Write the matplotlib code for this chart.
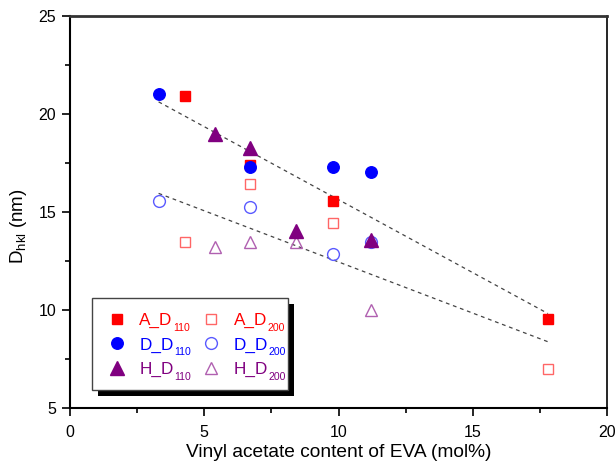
import matplotlib
matplotlib.use("Agg")
import matplotlib.pyplot as plt
from matplotlib.lines import Line2D
from matplotlib.patches import Rectangle
from matplotlib.ticker import MultipleLocator
from matplotlib.transforms import IdentityTransform

plt.rcParams['font.family'] = ['Liberation Sans', 'DejaVu Sans']
plt.rcParams['mathtext.fontset'] = 'custom'
plt.rcParams['mathtext.rm'] = 'Liberation Sans'
plt.rcParams['mathtext.it'] = 'Liberation Sans:italic'
plt.rcParams['mathtext.bf'] = 'Liberation Sans:bold'

# Data
a110_x = [4.3, 6.7, 9.8, 17.8]
a110_y = [20.9, 17.4, 15.55, 9.55]
d110_x = [3.3, 6.7, 9.8, 11.2]
d110_y = [21.0, 17.3, 17.3, 17.05]
h110_x = [5.4, 6.7, 8.4, 11.2]
h110_y = [19.0, 18.25, 14.05, 13.55]
a200_x = [4.3, 6.7, 9.8, 17.8]
a200_y = [13.47, 16.43, 14.45, 6.98]
d200_x = [3.3, 6.7, 9.8, 11.2]
d200_y = [15.55, 15.28, 12.85, 13.45]
h200_x = [5.4, 6.7, 8.4, 11.2]
h200_y = [13.2, 13.47, 13.47, 10.0]
trend_x = [3.3, 17.8]
trend_upper = [20.62, 9.82]
trend_lower = [15.95, 8.38]
legend_main = ['A_D', 'D_D', 'H_D', 'A_D', 'D_D', 'H_D']
legend_sub = ['110', '110', '110', '200', '200', '200']

fig = plt.figure(figsize=(6.15, 4.72), dpi=100)
ax = fig.add_axes([70/615, 1-408/472, 537/615, 392/472])

ax.plot(trend_x, trend_upper, ls=(0, (3, 3)), color='#444444', lw=0.9, zorder=1)
ax.plot(trend_x, trend_lower, ls=(0, (3, 3)), color='#444444', lw=0.9, zorder=1)

c_red, c_blue, c_pur = '#ff0000', '#0000ff', '#800080'
l_red, l_blue, l_pur = '#ff6666', '#5a5aff', '#b060b0'

ax.plot(a200_x, a200_y, 's', ms=7.5, mfc='none', mec=l_red, mew=1.0, ls='none', zorder=2)
ax.plot(d200_x, d200_y, 'o', ms=8.5, mfc='none', mec=l_blue, mew=1.0, ls='none', zorder=2)
ax.plot(h200_x, h200_y, '^', ms=9, mfc='none', mec=l_pur, mew=1.0, ls='none', zorder=2)
ax.plot(a110_x, a110_y, 's', ms=6.8, color=c_red, mec=c_red, ls='none', zorder=3)
ax.plot(d110_x, d110_y, 'o', ms=8.3, color=c_blue, mec=c_blue, ls='none', zorder=3)
ax.plot(h110_x, h110_y, '^', ms=9.5, color=c_pur, mec=c_pur, ls='none', zorder=3)

ax.set_xlim(0, 20)
ax.set_ylim(5, 25)
ax.xaxis.set_major_locator(MultipleLocator(5))
ax.xaxis.set_minor_locator(MultipleLocator(2.5))
ax.yaxis.set_major_locator(MultipleLocator(5))
ax.yaxis.set_minor_locator(MultipleLocator(2.5))
ax.tick_params(which='major', direction='out', length=6, width=1.2, labelsize=11.5, colors='black')
ax.tick_params(axis='x', which='major', pad=6)
ax.tick_params(axis='y', which='major', pad=4)
ax.tick_params(which='minor', direction='out', length=3.5, width=1.2)
ax.tick_params(top=False, right=False)
ax.spines['top'].set_linewidth(2.0)
ax.spines['top'].set_color('#333333')
ax.spines['left'].set_linewidth(1.5)
ax.spines['bottom'].set_linewidth(1.5)
ax.spines['right'].set_linewidth(1.2)

ax.set_xlabel('Vinyl acetate content of EVA (mol%)', fontsize=13.8)
ax.xaxis.set_label_coords(0.5, (408 - 444) / 392)
ax.set_ylabel(r'D$_{\mathrm{hkl}}$ (nm)', fontsize=13.5)
ax.yaxis.set_label_coords((29 - 70) / 537, (408 - 226) / 392)

# Legend frame with solid shadow
box_x0, box_y0 = (92 - 70) / 537, (408 - 390) / 392
box_w, box_h = 196 / 537, 92 / 392
sh_dx, sh_dy = 6 / 537, 6 / 392
ax.add_patch(Rectangle((box_x0 + sh_dx, box_y0 - sh_dy), box_w, box_h,
                       transform=ax.transAxes, facecolor='black',
                       edgecolor='none', zorder=8, clip_on=False))
ax.add_patch(Rectangle((box_x0, box_y0), box_w, box_h,
                       transform=ax.transAxes, facecolor='white',
                       edgecolor='#444444', lw=1.0, zorder=9, clip_on=False))

handles = [
    Line2D([], [], marker='s', ms=6.8, color=c_red, ls='none'),
    Line2D([], [], marker='o', ms=8.3, color=c_blue, ls='none'),
    Line2D([], [], marker='^', ms=9.5, color=c_pur, ls='none'),
    Line2D([], [], marker='s', ms=7.5, mfc='none', mec=l_red, ls='none'),
    Line2D([], [], marker='o', ms=8.5, mfc='none', mec=l_blue, ls='none'),
    Line2D([], [], marker='^', ms=9, mfc='none', mec=l_pur, ls='none'),
]
label_colors = [c_red, c_blue, c_pur, c_red, c_blue, c_pur]
leg = ax.legend(handles, legend_main, ncol=2, loc='upper left',
                bbox_to_anchor=((106.5 - 70) / 537, (408 - 313) / 392),
                fontsize=12.3, labelcolor=label_colors,
                frameon=False, handlelength=1.2, handletextpad=0.72,
                columnspacing=1.6, labelspacing=0.54, borderpad=0,
                borderaxespad=0)
leg.set_zorder(10)

# subscripts placed right after each legend label
fig.canvas.draw()
renderer = fig.canvas.get_renderer()
for t, sub, col in zip(leg.get_texts(), legend_sub, label_colors):
    bb = t.get_window_extent(renderer)
    bx, by = t.get_transform().transform(t.get_position())
    fig.text(bb.x1 + 0.5, by - 6, sub, transform=IdentityTransform(),
             fontsize=7.6, color=col, ha='left', va='baseline', zorder=12)

fig.savefig('out.png', dpi=100)
